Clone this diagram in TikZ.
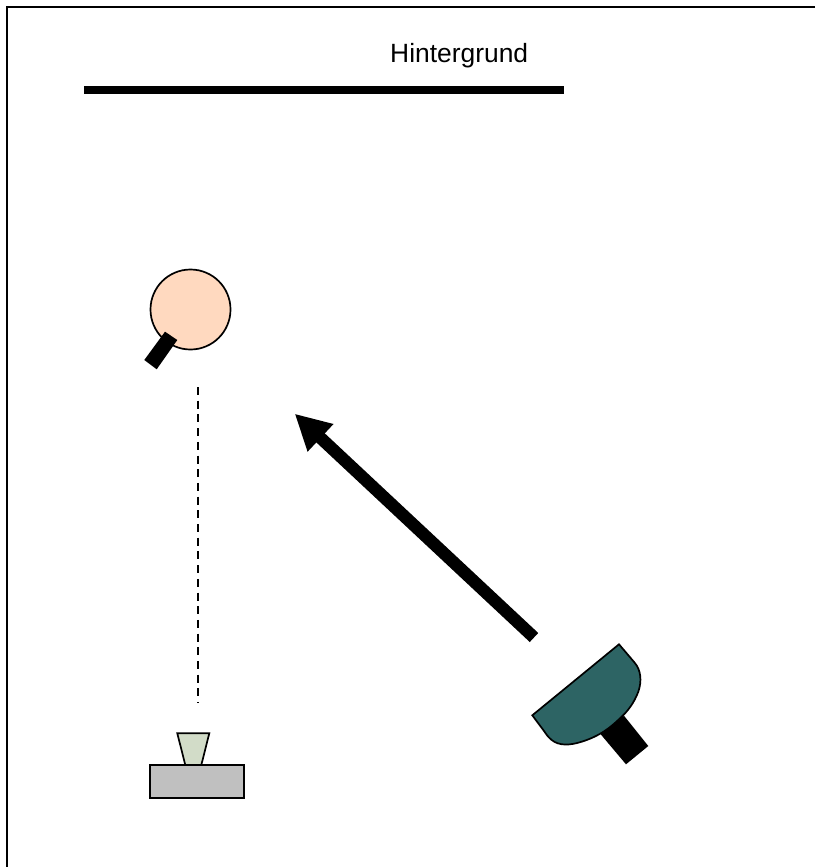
\documentclass[tikz,border=0pt]{standalone}
\usepackage{fontspec}
\setmainfont{Liberation Sans}
\usetikzlibrary{arrows.meta}
\definecolor{skin}{HTML}{FFD9BF}
\definecolor{teal}{HTML}{2D6464}
\definecolor{lens}{HTML}{D2DCC8}
\definecolor{body}{HTML}{C0C0C0}
\tikzset{
  outline/.style={draw=black,line width=1.7pt,line join=miter},
  solidblack/.style={fill=black,draw=none},
  frameline/.style={draw=black,line width=2.2pt},
  bar/.style={draw=black,line width=7.5pt},
  sightline/.style={draw=black,line width=1.6pt,dash pattern=on 8pt off 5.7pt},
  lightray/.style={draw=black,line width=12.4pt,-{Triangle[length=35.4pt,width=35.2pt]}},
  label/.style={font=\fontsize{26.4}{30}\selectfont,inner sep=0pt,anchor=base west}
}
\begin{document}
\begin{tikzpicture}[x=1pt,y=-1pt]
\useasboundingbox (0,0) rectangle (815,867);
\fill[white] (0,0) rectangle (815,867);
% frame
\coordinate (ftr) at (815,7);
\coordinate (ftl) at (7,7);
\coordinate (fbl) at (7,867);
\draw[frameline] (ftr) -- (ftl) -- (fbl);
% background
\coordinate (bgl) at (84,90);
\coordinate (bgr) at (564,90);
\draw[bar] (bgl) -- (bgr);
\node[label] (bgtext) at (390,62.6) {Hintergrund};
% subject
\draw[outline,fill=skin] (190.5,309.5) circle (40);
\fill[solidblack] (165,331.7) -- (177.3,340) -- (156.7,369.3) -- (144.3,360) -- cycle;
% line of sight
\coordinate (sa) at (198,387);
\coordinate (sb) at (198,703);
\draw[sightline] (sa) -- (sb);
% camera
\draw[outline,fill=body] (150,765) rectangle (244,797.7);
\draw[outline,fill=lens] (177.3,733.3) -- (209.3,733.3) -- (201.3,765) -- (185.3,765) -- cycle;
% light ray
\coordinate (ra) at (534,637.5);
\coordinate (rb) at (294.7,413.7);
\draw[lightray] (ra) -- (rb);
% lamp
\fill[solidblack] (624,715.7) -- (648.3,746) -- (626,764.3) -- (600.7,734.3) -- cycle;
\draw[outline,fill=teal] (619,644.3) -- (634.5,662.5)
  .. controls (641,670) and (642,681) .. (638.3,691.7)
  .. controls (634,703) and (628,711) .. (620,718.3)
  .. controls (611,727) and (600,736) .. (581.7,741.7)
  .. controls (570,745.5) and (559,746) .. (551.7,740)
  .. controls (548,737) and (546,734) .. (544,731)
  -- (532.3,715.3) -- cycle;
\end{tikzpicture}
\end{document}
